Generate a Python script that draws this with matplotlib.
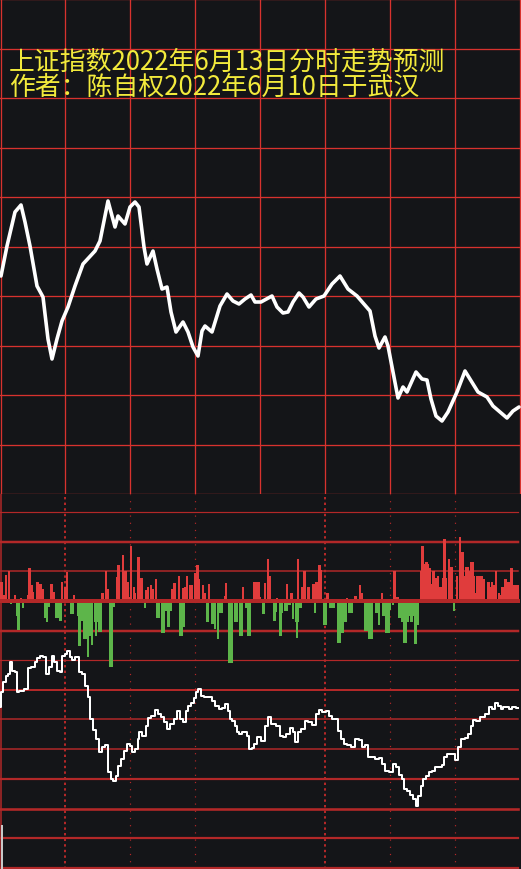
import matplotlib
matplotlib.use('Agg')
import matplotlib.pyplot as plt

plt.rcParams['font.family'] = ['Noto Sans CJK SC', 'DejaVu Sans']

# ── Datos ────────────────────────────────────────────────────────────────────
title_1 = '上证指数2022年6月13日分时走势预测'
title_2 = '作者：陈自权2022年6月10日于武汉'

# Panel superior: curva de predicción (x = columna, y = nivel)
top_x = [1, 7, 15, 21, 25, 30, 37, 43, 48, 52, 57, 62, 68, 75, 83, 95, 100,
         105, 108, 115, 118, 125, 130, 135, 139, 144, 147, 153, 157, 162, 167,
         171, 176, 183, 188, 193, 198, 202, 205, 212, 220, 227, 233, 239, 245,
         251, 255, 261, 272, 277, 283, 288, 293, 299, 303, 309, 316, 324, 332,
         340, 348, 357, 370, 375, 379, 385, 388, 393, 398, 403, 407, 416, 422,
         427, 431, 436, 442, 448, 457, 465, 478, 487, 493, 507, 513, 519]
top_y = [218, 248, 282, 289, 272, 248, 208, 197, 155, 135, 155, 173, 187,
         208, 230, 243, 253, 278, 293, 267, 278, 270, 287, 292, 287, 247, 230,
         243, 225, 205, 207, 182, 162, 172, 162, 147, 138, 163, 168, 162, 188,
         200, 193, 190, 195, 199, 192, 192, 198, 187, 181, 182, 192, 201, 197,
         187, 195, 198, 210, 218, 205, 198, 183, 158, 146, 157, 148, 122, 96,
         107, 102, 122, 115, 114, 95, 78, 73, 82, 102, 123, 102, 97, 88, 76,
         83, 87]

# Panel inferior: barras rojas (hacia arriba)
red_x = [1, 2, 4, 5, 6, 9, 15, 21, 28, 29,
         30, 32, 33, 37, 38, 39, 40, 41, 43, 51,
         52, 54, 62, 65, 66, 67, 74, 102, 103, 106,
         107, 108, 117, 118, 119, 123, 124, 125, 126, 127,
         128,
         130, 131, 134, 135, 138, 139, 140, 141, 142, 146,
         147, 148, 151, 152, 153, 156, 172, 173, 174, 175,
         179, 183, 185, 187, 190, 191, 192, 195, 196, 197,
         198, 199, 203, 205, 209, 225, 226, 243, 254, 255,
         257, 258, 259,
         260, 265, 268, 269, 270, 277, 287, 291, 292, 298,
         302, 303, 304, 305, 308, 309, 313, 314, 315, 316,
         317, 319, 320, 321, 327, 328, 347, 355, 356, 360,
         361, 362, 382,
         394, 395, 397, 398, 421, 422, 423, 425, 426, 427,
         428, 429, 430, 432, 433, 434, 435, 436, 438, 439,
         440, 441, 443, 444, 445, 446, 449, 450, 451, 452,
         457, 460, 461, 462, 463, 464, 465, 466, 467, 468,
         469, 470, 471, 472, 473, 474, 476, 477, 478, 479,
         480, 481, 482, 483, 484, 488, 489, 490, 491, 492,
         494, 495, 496, 499, 500, 501, 502, 503, 505, 506,
         507, 508, 509, 511, 512, 513, 514, 515, 516, 517,
         518]
red_h = [18, 18, 5, 5, 25, 29, 5, 2, 5, 32,
         32, 15, 8, 18, 18, 16, 16, 16, 11, 16,
         16, 8, 18, 13, 13, 28, 5, 7, 7, 29,
         11, 11, 23, 35, 35, 45, 29, 29, 29, 18,
         18,
         3, 54, 13, 7, 43, 43, 22, 22, 22, 10,
         10, 13, 15, 11, 11, 21, 11, 11, 17, 17,
         24, 12, 13, 24, 15, 15, 15, 27, 27, 35,
         35, 21, 15, 7, 16, 4, 17, 13, 18, 18,
         18, 18, 18,
         3, 17, 41, 24, 24, 2, 16, 7, 7, 41,
         13, 13, 29, 29, 13, 13, 16, 16, 16, 18,
         18, 35, 35, 30, 7, 7, 2, 4, 4, 15,
         7, 7, 7,
         29, 29, 3, 3, 29, 54, 54, 36, 38, 38,
         36, 32, 32, 16, 29, 29, 22, 22, 24, 13,
         13, 13, 22, 61, 61, 22, 41, 33, 33, 33,
         24, 63, 48, 48, 48, 24, 24, 33, 33, 33,
         29, 29, 38, 38, 38, 24, 7, 24, 24, 7,
         24, 24, 24, 21, 21, 18, 18, 13, 13, 18,
         15, 15, 29, 7, 5, 5, 13, 13, 21, 21,
         18, 18, 18, 32, 32, 15, 15, 15, 15, 15,
         15]

# Panel inferior: barras verdes (hacia abajo)
green_x = [11, 17, 18, 19, 23, 45, 46, 47, 49, 56,
           57, 58, 60, 61, 71, 72, 73, 78, 79, 80,
           82, 83, 84, 85, 86, 88, 90, 91, 92, 95,
           96, 97, 99, 100, 101, 110, 111, 112, 113, 114,
           145, 157, 158, 159, 162, 163, 164, 166, 167, 168,
           169, 170, 171, 180, 181, 182, 184, 207, 208, 212,
           213, 214, 215, 218, 219, 220, 221, 222, 229, 230,
           231, 232, 235, 236, 237, 240, 241, 242, 246, 247,
           248, 249, 250,
           263, 264, 274, 275, 276, 280, 281, 282, 285, 286,
           287, 288, 289, 290, 293, 296, 297, 298, 299, 300,
           301, 315, 324, 325, 326, 330, 331, 332, 333, 334,
           338, 339, 340, 341, 342, 343, 344, 345, 346, 349,
           350, 351, 352, 365, 366, 367, 368, 369, 370, 371,
           372, 376, 377, 378, 379, 383, 384, 385, 386, 387,
           388, 389, 390,
           393, 399, 400, 401, 402, 403, 404, 405, 406, 407,
           408, 410, 411, 412, 413, 415, 416, 417, 418, 454]
green_h = [2, 14, 28, 28, 6, 16, 16, 20, 5, 16,
           16, 16, 19, 19, 12, 5, 12, 14, 44, 44,
           19, 19, 37, 37, 37, 55, 34, 34, 43, 20,
           34, 20, 30, 30, 30, 65, 65, 65, 5, 5,
           6, 16, 16, 16, 31, 31, 31, 9, 9, 25,
           25, 9, 9, 34, 34, 34, 25, 20, 20, 22,
           22, 22, 27, 37, 11, 11, 11, 11, 61, 61,
           61, 61, 20, 20, 20, 34, 34, 34, 6, 6,
           34, 34, 34,
           12, 12, 19, 19, 10, 34, 34, 11, 9, 9,
           9, 3, 3, 3, 17, 20, 36, 20, 6, 6,
           6, 11, 23, 23, 23, 6, 6, 6, 6, 6,
           41, 41, 41, 31, 31, 31, 20, 20, 20, 11,
           11, 11, 11, 29, 29, 29, 29, 37, 37, 37,
           37, 11, 11, 11, 23, 14, 14, 14, 31, 31,
           31, 31, 8,
           3, 16, 16, 16, 20, 20, 41, 41, 41, 20,
           20, 14, 20, 20, 14, 42, 42, 23, 23, 9]

# Panel inferior: curva escalonada
low_x = [0, 1, 4, 7, 8, 11, 13, 16, 18, 20,
         27, 29, 33, 36, 38, 42, 44, 47, 50, 53,
         55, 58, 61, 63, 66, 68, 71, 73, 76, 78,
         80, 83, 87, 88, 91, 94, 97, 100, 103, 107,
         109, 112, 114, 117, 119, 122, 125, 128, 131, 133,
         137, 138, 140, 144, 147, 149, 153, 156, 159, 163,
         165, 168, 172, 175, 178, 182, 184, 187, 189, 193,
         195, 197, 199, 202, 205, 210, 213, 217, 220, 223,
         227, 229, 231, 233, 236, 237, 241, 243, 246, 248,
         250, 253, 255, 259, 263, 266, 269, 273, 278, 281,
         285, 287, 292, 293, 297, 299, 303, 306, 310, 314,
         317, 320, 323, 328, 330, 333, 337, 339, 342, 345,
         348, 353, 357, 361, 363, 367, 369, 373, 377, 380,
         383, 387, 391, 395, 397, 400, 403, 405, 408, 412,
         414, 417, 419, 422, 424, 427, 430, 433, 437, 440,
         443, 445, 448, 453, 456, 459, 462, 467, 469, 472,
         474, 478, 482, 487, 490, 493, 497, 499, 502, 504,
         507, 511, 513, 518]
low_y = [162, 177, 187, 193, 195, 207, 198, 197, 177, 178,
         180, 201, 202, 207, 211, 213, 212, 195, 202, 213,
         207, 198, 197, 213, 215, 218, 212, 209, 212, 212,
         197, 195, 183, 172, 150, 139, 130, 117, 122, 124,
         97, 90, 88, 93, 103, 110, 118, 125, 123, 117,
         120, 130, 137, 133, 143, 151, 153, 159, 155, 152,
         147, 140, 145, 150, 158, 150, 147, 158, 163, 166,
         171, 177, 180, 173, 172, 172, 168, 163, 160, 161,
         165, 158, 150, 148, 143, 137, 135, 137, 137, 133,
         120, 121, 125, 132, 128, 143, 152, 145, 143, 133,
         132, 135, 141, 137, 127, 137, 140, 148, 147, 144,
         155, 159, 157, 158, 153, 150, 150, 138, 130, 125,
         124, 122, 130, 129, 122, 124, 112, 112, 110, 111,
         105, 98, 97, 105, 102, 94, 90, 80, 78, 74,
         70, 63, 73, 83, 90, 93, 97, 98, 102, 102,
         104, 112, 115, 115, 109, 122, 130, 131, 135, 143,
         149, 148, 152, 155, 162, 160, 166, 163, 160, 162,
         162, 160, 162, 161]

# ── Estilo ────────────────────────────────────────────────────────────────────
BG = '#141518'
GRID_TOP = '#d8322e'
GRID_LOW = '#b32828'
RED = '#e03c3c'
GREEN = '#5db54a'
YELLOW = '#f2ea3c'

W, H = 521, 870
TOP_H = 495
LOW_H = H - TOP_H
px = 0.72  # 1 px en puntos (dpi=100)

fig = plt.figure(figsize=(W / 100, H / 100), dpi=100, facecolor=BG)

# ── Panel superior ────────────────────────────────────────────────────────────
ax = fig.add_axes([0, LOW_H / H, 1, TOP_H / H])
ax.set_facecolor(BG)
ax.set_xlim(0, W)
ax.set_ylim(0, TOP_H)
ax.axis('off')

for k in range(11):
    ax.axhline(TOP_H - k * 49.5, color=GRID_TOP, lw=1.3 * px, zorder=1)
for k in range(9):
    ax.axvline(max(k * 65, 0.7), color=GRID_TOP, lw=1.3 * px, zorder=1)

ax.plot(top_x, top_y, color='white', lw=3.6 * px, zorder=3,
        solid_joinstyle='round', solid_capstyle='round')

ax.text(9, TOP_H - 62, title_1, color=YELLOW, fontsize=18.6,
        va='center', ha='left', zorder=4)
ax.text(9, TOP_H - 87, title_2, color=YELLOW, fontsize=18.6,
        va='center', ha='left', zorder=4)

# ── Panel inferior ────────────────────────────────────────────────────────────
ax2 = fig.add_axes([0, 0, 1, LOW_H / H])
ax2.set_facecolor(BG)
ax2.set_xlim(0, W)
ax2.set_ylim(0, LOW_H)
ax2.axis('off')

# líneas horizontales (y en px desde arriba, grosor en px)
h_lines = [(513, 1.2), (543, 2.5), (572, 1.5), (632, 2.5), (661, 1.2),
           (691, 2.0), (720, 1.5), (750, 1.5), (780, 2.2), (810, 2.6),
           (839, 2.2), (869, 2.2)]
for yp, w in h_lines:
    ax2.plot([0, 518], [H - yp, H - yp], color=GRID_LOW, lw=w * px, zorder=1)

# líneas verticales punteadas
for xv in (65, 325):
    ax2.axvline(xv, color=GRID_LOW, lw=2 * px, ls=(0, (1.2, 1.6)), zorder=1)
for xv in (130, 195, 390, 455):
    ax2.axvline(xv, color=GRID_LOW, lw=1.2 * px, ls=(0, (1, 5)), zorder=1)
ax2.axvline(0.7, color=GRID_LOW, lw=1.5 * px, zorder=1)
ax2.plot([2, 2], [0, H - 827], color='#c8c8c8', lw=2 * px, zorder=2)

zero = H - 602
ax2.bar(red_x, red_h, width=1.2, bottom=zero + 1, color=RED,
        align='center', linewidth=0, zorder=2)
ax2.bar(green_x, [-v for v in green_h], width=1.2, bottom=zero - 1,
        color=GREEN, align='center', linewidth=0, zorder=2)
ax2.plot([0, 518], [zero, zero], color=GRID_LOW, lw=4 * px, zorder=3)

ax2.plot(low_x, low_y, color='white', lw=2.0 * px, zorder=4,
         drawstyle='steps-mid')

fig.savefig('out.png', dpi=100, facecolor=BG)
